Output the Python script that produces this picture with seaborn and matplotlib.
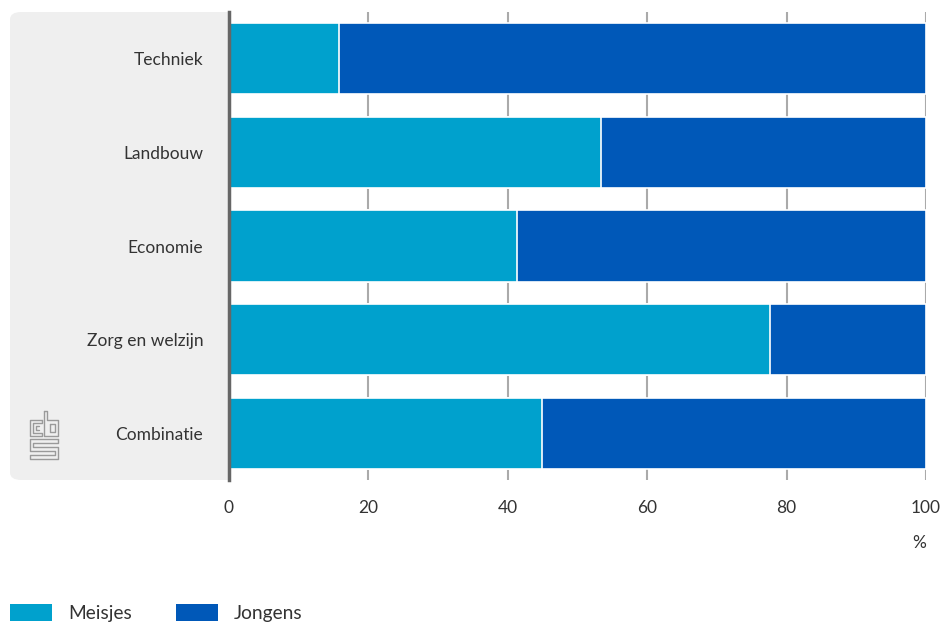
import matplotlib
matplotlib.use("Agg")
import matplotlib.pyplot as plt
import seaborn as sns
import pandas as pd
from matplotlib.patches import FancyBboxPatch, Patch
from matplotlib.lines import Line2D

categories = ["Techniek", "Landbouw", "Economie", "Zorg en welzijn", "Combinatie"]
meisjes = [15.8, 53.4, 41.3, 77.6, 44.9]
jongens = [84.2, 46.6, 58.7, 22.4, 55.1]
xticks = [0, 20, 40, 60, 80, 100]

C_M = "#00A1CD"
C_J = "#0058B8"
TXT = "#333333"

sns.set_theme(style="white")
plt.rcParams["font.family"] = ["Lato", "DejaVu Sans"]

W, H = 945, 624
fig = plt.figure(figsize=(W / 100, H / 100), dpi=100)

def fx(px):
    return px / W

def fy(py):
    return 1 - py / H

# gray panel behind labels
panel = FancyBboxPatch((fx(10), fy(480)), fx(240) - fx(10), fy(12) - fy(480),
                       boxstyle="round,pad=0,rounding_size=0.012",
                       transform=fig.transFigure, facecolor="#EFEFEF",
                       edgecolor="none", zorder=0)
fig.add_artist(panel)

ax = fig.add_axes([fx(229), fy(480), fx(926) - fx(229), fy(12) - fy(480)])
ax.set_zorder(1)
ax.set_facecolor("white")

df = pd.DataFrame({"cat": categories, "m": meisjes, "j": jongens})
df["total"] = df["m"] + df["j"]

sns.barplot(data=df, y="cat", x="total", color=C_J, orient="h", width=0.76,
            edgecolor="white", linewidth=1.2, saturation=1, ax=ax, zorder=2)
sns.barplot(data=df, y="cat", x="m", color=C_M, orient="h", width=0.76,
            edgecolor="white", linewidth=1.2, saturation=1, ax=ax, zorder=3)

ax.set_xlim(0, 100)
ax.set_ylim(4.5, -0.5)
ax.set_xticks(xticks)
ax.set_xticklabels([str(v) for v in xticks])
ax.set_xlabel("")
ax.set_ylabel("")
ax.grid(axis="x", color="#AAAAAA", linewidth=1.5, zorder=0)
ax.set_axisbelow(True)
ax.tick_params(axis="x", length=0, pad=14.5, labelsize=12.5, labelcolor=TXT)
ax.tick_params(axis="y", length=0, pad=18.5, labelsize=12.5, labelcolor=TXT)
for s in ["top", "right", "bottom"]:
    ax.spines[s].set_visible(False)
ax.spines["left"].set_color("#666666")
ax.spines["left"].set_linewidth(2.5)
ax.spines["left"].set_zorder(5)

fig.text(fx(926), fy(543), "%", ha="right", va="center", fontsize=12.5, color=TXT)

# legend
handles = [Patch(facecolor=C_M, edgecolor="none", label="Meisjes"),
           Patch(facecolor=C_J, edgecolor="none", label="Jongens")]
fig.legend(handles=handles, loc="center left", bbox_to_anchor=(fx(-7), fy(613)),
           ncol=2, frameon=False, fontsize=13.8, handlelength=2.19,
           handleheight=0.94, handletextpad=0.83, columnspacing=2.3,
           labelcolor=TXT)

# cbs logo (approximate)
lax = fig.add_axes([fx(28), fy(461), fx(60) - fx(28), fy(410) - fy(461)])
lax.set_xlim(0, 32)
lax.set_ylim(51, 0)
lax.axis("off")
lc = "#9A9A9A"
lw = 1.0
paths = [
    # c
    [(14, 10), (2, 10), (2, 26), (14, 26), (14, 23), (5, 23), (5, 13), (14, 13), (14, 10)],
    [(11, 16), (8, 16), (8, 20), (11, 20)],
    # b
    [(16, 1), (19, 1), (19, 10), (30, 10), (30, 26), (16, 26), (16, 1)],
    [(22, 14), (27, 14), (27, 22), (22, 22), (22, 14)],
    # s
    [(30, 29), (2, 29), (2, 41), (27, 41), (27, 45), (2, 45), (2, 49), (30, 49),
     (30, 37), (5, 37), (5, 33), (30, 33), (30, 29)],
]
for p in paths:
    xs, ys = zip(*p)
    lax.add_line(Line2D(xs, ys, color=lc, linewidth=lw))

fig.savefig("out.png", dpi=100)
